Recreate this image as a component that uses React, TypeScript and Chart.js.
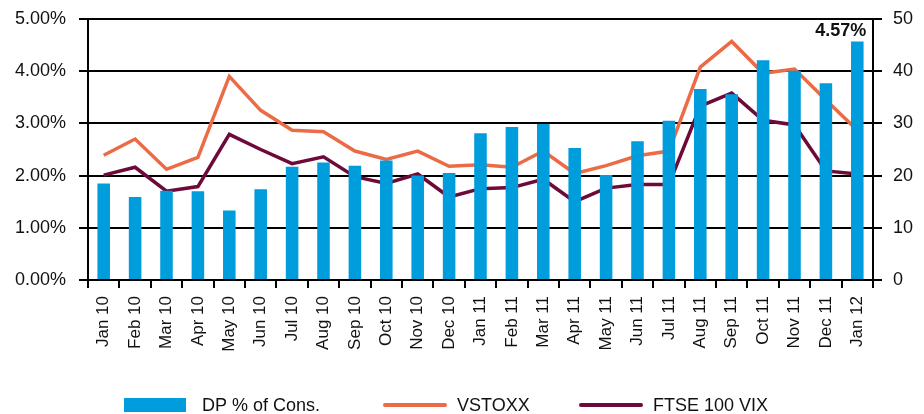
import React, { useEffect, useRef } from "react";
import { Chart, registerables } from "chart.js";

Chart.register(...registerables);

const categories = [
  "Jan 10", "Feb 10", "Mar 10", "Apr 10", "May 10", "Jun 10", "Jul 10", "Aug 10",
  "Sep 10", "Oct 10", "Nov 10", "Dec 10", "Jan 11", "Feb 11", "Mar 11", "Apr 11",
  "May 11", "Jun 11", "Jul 11", "Aug 11", "Sep 11", "Oct 11", "Nov 11", "Dec 11", "Jan 12",
];

const dpPctOfCons = [
  1.85, 1.59, 1.71, 1.70, 1.33, 1.74, 2.17, 2.25, 2.19, 2.29, 2.00, 2.05, 2.81,
  2.93, 2.99, 2.53, 2.01, 2.66, 3.05, 3.66, 3.56, 4.21, 4.01, 3.77, 4.57,
];

const vstoxx = [
  23.9, 27.0, 21.2, 23.5, 39.0, 32.5, 28.7, 28.4, 24.7, 23.1, 24.7, 21.8, 22.1,
  21.6, 24.7, 20.4, 21.9, 23.8, 24.7, 40.8, 45.7, 39.6, 40.4, 34.5, 28.7,
];

const ftse100Vix = [
  20.1, 21.6, 17.0, 17.9, 27.9, 25.0, 22.3, 23.6, 19.8, 18.5, 20.3, 15.9, 17.5,
  17.7, 19.3, 15.0, 17.6, 18.3, 18.3, 33.3, 35.8, 30.6, 29.7, 20.9, 20.3,
];

const leftTicks = [0, 1, 2, 3, 4, 5];
const rightTicks = [0, 10, 20, 30, 40, 50];

const seriesLabels = ["DP % of Cons.", "VSTOXX", "FTSE 100 VIX"];

const BLUE = "#009ddc";
const ORANGE = "#eb6b47";
const MAROON = "#6e0a3a";
const FONT = '"Liberation Sans", Arial, Helvetica, sans-serif';

const lastBarLabel = {
  id: "lastBarLabel",
  afterDatasetsDraw(chart: any) {
    const meta = chart.getDatasetMeta(0);
    const el = meta.data[meta.data.length - 1];
    if (!el) return;
    const v = dpPctOfCons[dpPctOfCons.length - 1];
    const ctx = chart.ctx;
    ctx.save();
    ctx.font = `bold 18px ${FONT}`;
    ctx.fillStyle = "#111";
    ctx.textAlign = "right";
    ctx.textBaseline = "alphabetic";
    ctx.fillText(v.toFixed(2) + "%", el.x + 9, el.y - 5);
    ctx.restore();
  },
};

const bottomLegend = {
  id: "bottomLegend",
  afterDraw(chart: any) {
    const ctx = chart.ctx;
    const slots = [
      { x: 124, w: 62, textX: 202 },
      { x: 383, w: 64, textX: 457 },
      { x: 579, w: 64, textX: 653 },
    ];
    const cy = 405;
    ctx.save();
    chart.data.datasets.forEach((ds: any, i: number) => {
      const s = slots[i];
      if (!s) return;
      if (ds.type === "bar") {
        ctx.fillStyle = ds.backgroundColor;
        ctx.fillRect(s.x, cy - 7, s.w, 14);
      } else {
        ctx.strokeStyle = ds.borderColor;
        ctx.lineWidth = 4;
        ctx.lineCap = "round";
        ctx.beginPath();
        ctx.moveTo(s.x + 2, cy);
        ctx.lineTo(s.x + s.w - 2, cy);
        ctx.stroke();
      }
      ctx.font = `18px ${FONT}`;
      ctx.fillStyle = "#111";
      ctx.textAlign = "left";
      ctx.textBaseline = "middle";
      ctx.fillText(ds.label, s.textX, cy + 1);
    });
    ctx.restore();
  },
};

export default function App() {
  const canvasRef = useRef<HTMLCanvasElement | null>(null);

  useEffect(() => {
    if (!canvasRef.current) return;
    Chart.defaults.font.family = FONT;
    const chart = new Chart(canvasRef.current, {
      data: {
        labels: categories,
        datasets: [
          {
            type: "bar",
            label: seriesLabels[0],
            data: dpPctOfCons,
            backgroundColor: BLUE,
            borderWidth: 0,
            yAxisID: "y",
            order: 0,
            barPercentage: 0.4,
            categoryPercentage: 1.0,
          },
          {
            type: "line",
            label: seriesLabels[1],
            data: vstoxx,
            borderColor: ORANGE,
            backgroundColor: ORANGE,
            borderWidth: 3.5,
            pointRadius: 0,
            tension: 0,
            yAxisID: "y1",
            order: 1,
          },
          {
            type: "line",
            label: seriesLabels[2],
            data: ftse100Vix,
            borderColor: MAROON,
            backgroundColor: MAROON,
            borderWidth: 3.5,
            pointRadius: 0,
            tension: 0,
            yAxisID: "y1",
            order: 2,
          },
        ],
      } as any,
      options: {
        animation: false,
        responsive: true,
        maintainAspectRatio: false,
        layout: { padding: { top: 19, left: 0, right: 0, bottom: 0 } },
        plugins: {
          legend: { display: false },
          tooltip: { enabled: false },
        },
        scales: {
          x: {
            type: "category",
            offset: true,
            grid: {
              display: true,
              offset: true,
              drawOnChartArea: false,
              drawTicks: true,
              tickLength: 8,
              color: "#000",
              lineWidth: 2,
            },
            border: { display: true, color: "#000", width: 2 },
            ticks: {
              autoSkip: false,
              maxRotation: 90,
              minRotation: 90,
              padding: 8,
              color: "#111",
              font: { size: 17, family: FONT },
            },
            afterFit(scale: any) {
              scale.height = 134;
              scale.paddingLeft = 0;
              scale.paddingRight = 0;
            },
          },
          y: {
            type: "linear",
            position: "left",
            min: leftTicks[0],
            max: leftTicks[leftTicks.length - 1],
            afterBuildTicks(scale: any) {
              scale.ticks = leftTicks.map((v) => ({ value: v }));
            },
            grid: {
              color: "#000",
              lineWidth: 2,
              tickLength: 9,
              drawTicks: true,
            },
            border: { display: true, color: "#000", width: 2 },
            ticks: {
              padding: 13,
              color: "#111",
              font: { size: 18, family: FONT },
              callback: (v: any) => Number(v).toFixed(2) + "%",
            },
            afterFit(scale: any) {
              scale.width = 88;
              scale.paddingTop = 0;
              scale.paddingBottom = 0;
            },
          },
          y1: {
            type: "linear",
            position: "right",
            min: rightTicks[0],
            max: rightTicks[rightTicks.length - 1],
            afterBuildTicks(scale: any) {
              scale.ticks = rightTicks.map((v) => ({ value: v }));
            },
            grid: {
              drawOnChartArea: false,
              color: "#000",
              lineWidth: 2,
              tickLength: 9,
              drawTicks: true,
            },
            border: { display: true, color: "#000", width: 2 },
            ticks: {
              padding: 11,
              color: "#111",
              font: { size: 18, family: FONT },
              callback: (v: any) => String(v),
            },
            afterFit(scale: any) {
              scale.width = 51;
              scale.paddingTop = 0;
              scale.paddingBottom = 0;
            },
          },
        },
      } as any,
      plugins: [lastBarLabel, bottomLegend],
    });
    return () => chart.destroy();
  }, []);

  return (
    <div style={{ position: "fixed", left: 0, top: 0, width: 924, height: 414, background: "#fff" }}>
      <canvas ref={canvasRef} />
    </div>
  );
}
